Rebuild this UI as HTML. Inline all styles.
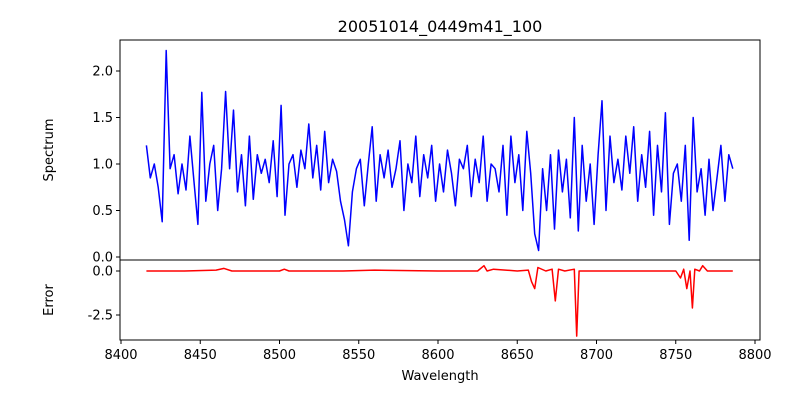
<!DOCTYPE html>
<html><head><meta charset="utf-8"><style>
body{margin:0;background:#fff;font-family:"Liberation Sans","DejaVu Sans",sans-serif}
svg text{font-family:"DejaVu Sans","Liberation Sans",sans-serif;font-size:13px;fill:#000}
</style></head><body>
<svg id="chart" width="800" height="400" xmlns="http://www.w3.org/2000/svg">
<rect width="800" height="400" fill="#fff"/>
<text x="440" y="32" text-anchor="middle" style="font-size:16px">20051014_0449m41_100</text>
<g id="topG"></g><g id="botG"></g>
<text x="440" y="380" text-anchor="middle">Wavelength</text>
<text transform="translate(53,150) rotate(-90)" text-anchor="middle">Spectrum</text>
<text transform="translate(53,300) rotate(-90)" text-anchor="middle">Error</text>
</svg>
<script>
const wlStart = 8416, wlStep = 2.5;
const flux = [1.2,0.85,1.0,0.75,0.38,2.22,0.95,1.1,0.68,1.0,
0.72,1.3,0.82,0.35,1.77,0.6,1.0,1.2,0.5,0.95,
1.78,0.95,1.58,0.7,1.1,0.55,1.3,0.62,1.1,0.9,
1.05,0.8,1.25,0.65,1.63,0.45,1.0,1.1,0.75,1.15,
0.95,1.43,0.85,1.2,0.72,1.35,0.8,1.05,0.92,0.6,
0.4,0.12,0.7,0.95,1.05,0.55,1.0,1.4,0.6,1.1,
0.85,1.15,0.75,0.95,1.25,0.5,1.0,0.8,1.3,0.65,
1.1,0.85,1.2,0.6,1.0,0.7,1.15,0.9,0.55,1.05,
0.95,1.2,0.65,1.05,0.8,1.3,0.6,1.0,0.95,0.7,
1.2,0.45,1.3,0.8,1.1,0.5,1.35,0.9,0.25,0.07,
0.95,0.5,1.1,0.3,1.15,0.7,1.05,0.42,1.5,0.28,
1.2,0.6,1.0,0.35,1.1,1.68,0.5,1.3,0.8,1.05,
0.72,1.3,0.9,1.4,0.6,1.1,0.75,1.35,0.45,1.2,
0.7,1.55,0.35,0.9,1.0,0.6,1.2,0.18,1.5,0.7,
0.95,0.45,1.05,0.5,0.85,1.2,0.6,1.1,0.95];
const errWl = [8416,8440,8460,8465,8470,8500,8503,8506,8540,8560,8600,8625,8629,8631,8635,8650,8657,8659,8661,8663,8668,8672,8674,8676,8680,8686,8687.5,8689,8692,8700,8740,8750,8753,8755,8757,8759,8760.5,8762,8765,8767,8770,8786];
const errVal = [0,0,0.05,0.15,0,0,0.1,0,0,0.05,0,0,0.3,0,0.1,0,0.05,-0.6,-1.0,0.2,0,0.1,-1.7,0.1,0,0.1,-3.7,0,0,0,0,0,-0.4,0.1,-1.0,0,-2.1,0.1,0,0.3,0,0];
const xTicks = [8400,8450,8500,8550,8600,8650,8700,8750,8800];
const topTicks = [0.0,0.5,1.0,1.5,2.0];
const botTicks = [0.0,-2.5];

const NS="http://www.w3.org/2000/svg";
const L=120,R=760;
const xs=v=>121+(v-8400)*1.585;
const ys=v=>257-v*93;
const ye=v=>271-v*17.6;
function mk(tag,attrs,parent){const e=document.createElementNS(NS,tag);for(const k in attrs)e.setAttribute(k,attrs[k]);parent.appendChild(e);return e;}
const topG=document.getElementById('topG'),botG=document.getElementById('botG');
let d=flux.map((v,i)=>(i?'L':'M')+xs(wlStart+i*wlStep).toFixed(1)+','+ys(v).toFixed(1)).join('');
const sp=mk('path',{d:d,fill:'none',stroke:'#0000ff','stroke-width':1.5,'stroke-linejoin':'round'},topG);


d=errWl.map((w,i)=>(i?'L':'M')+xs(w).toFixed(1)+','+ye(errVal[i]).toFixed(1)).join('');
const er=mk('path',{d:d,fill:'none',stroke:'#ff0000','stroke-width':1.5,'stroke-linejoin':'round'},botG);


const f1=mk('rect',{x:L,y:40,width:R-L,height:220,fill:'none',stroke:'#000','stroke-width':1},topG);


const f2=mk('rect',{x:L,y:260,width:R-L,height:80,fill:'none',stroke:'#000','stroke-width':1},botG);


topTicks.forEach(t=>{const y=ys(t);mk('line',{x1:L-4,x2:L,y1:y,y2:y,stroke:'#000'},topG);
const tx=mk('text',{x:L-7,y:y+4.5,'text-anchor':'end'},topG);tx.textContent=t.toFixed(1);

});
botTicks.forEach(t=>{const y=ye(t);mk('line',{x1:L-4,x2:L,y1:y,y2:y,stroke:'#000'},botG);
const tx=mk('text',{x:L-7,y:y+4.5,'text-anchor':'end'},botG);tx.textContent=t.toFixed(1);

});
xTicks.forEach(t=>{const x=xs(t);mk('line',{x1:x,x2:x,y1:340,y2:344,stroke:'#000'},botG);
const tx=mk('text',{x:x,y:359,'text-anchor':'middle'},botG);tx.textContent=t;

});
</script>
</body></html>
